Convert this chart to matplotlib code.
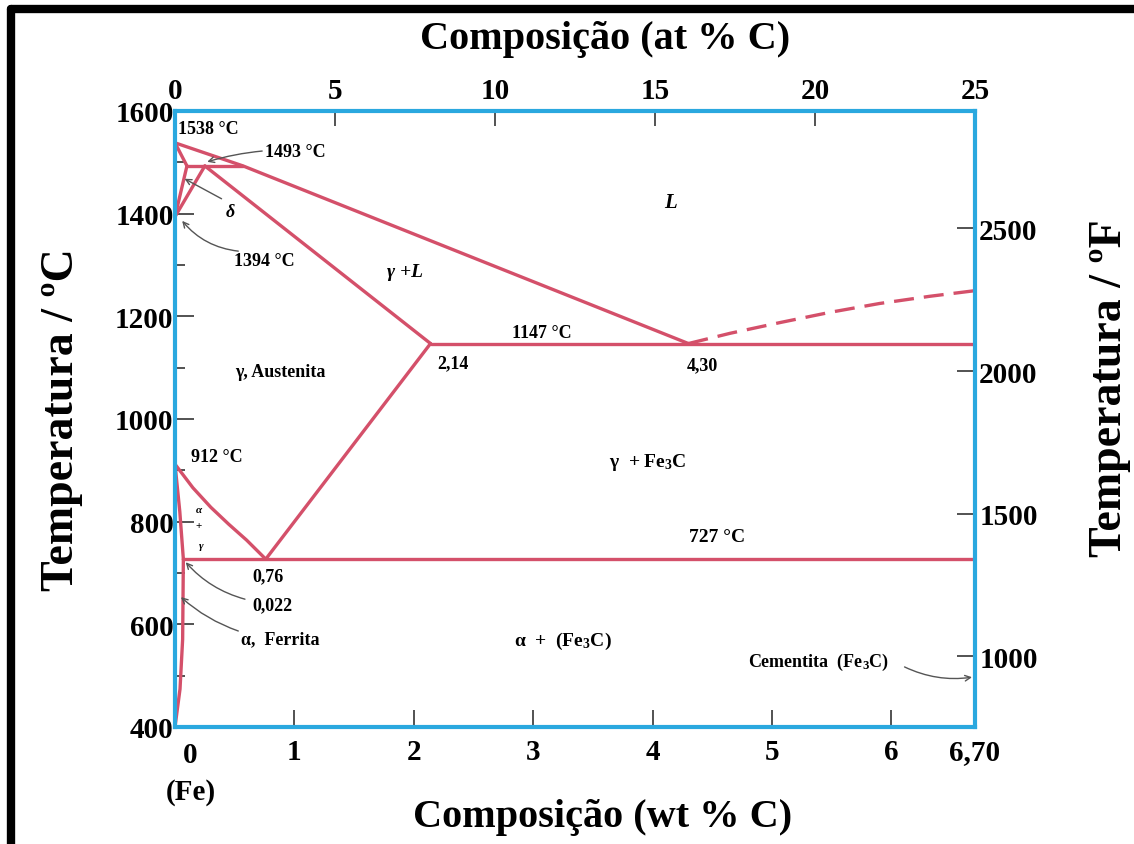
import matplotlib.pyplot as plt
from matplotlib.lines import Line2D
from matplotlib.ticker import MultipleLocator

plt.rcParams['font.family'] = ['Liberation Serif', 'DejaVu Serif']
plt.rcParams['font.weight'] = 'bold'
plt.rcParams['mathtext.fontset'] = 'custom'
plt.rcParams['mathtext.rm'] = 'Liberation Serif:bold'
plt.rcParams['mathtext.it'] = 'Liberation Serif:italic:bold'
plt.rcParams['mathtext.bf'] = 'Liberation Serif:bold'

# phase boundaries (wt % C, temperature in °C)
liquidus_wt = [0, 0.57, 4.30]
liquidus_t = [1538, 1493, 1147]
fe3c_liq_wt = [4.30, 4.65, 5.07, 5.49, 5.90, 6.32, 6.70]
fe3c_liq_t = [1147, 1167, 1188, 1208, 1225, 1239, 1250]
delta_sol_wt = [0, 0.10]
delta_sol_t = [1538, 1493]
delta_gam_wt = [0, 0.10]
delta_gam_t = [1394, 1493]
gam_delta_wt = [0, 0.25]
gam_delta_t = [1394, 1493]
peritectic_wt = [0.10, 0.57]
peritectic_t = [1493, 1493]
solidus_wt = [0.25, 2.14]
solidus_t = [1493, 1147]
eutectic_wt = [2.14, 6.70]
eutectic_t = [1147, 1147]
acm_wt = [0.76, 2.14]
acm_t = [727, 1147]
a3_wt = [0, 0.15, 0.30, 0.45, 0.60, 0.76]
a3_t = [912, 866, 828, 795, 764, 727]
alpha_gam_wt = [0, 0.04, 0.07]
alpha_gam_t = [912, 820, 727]
alpha_solvus_wt = [0.07, 0.064, 0.042, 0]
alpha_solvus_t = [727, 571, 474, 400]
eutectoid_wt = [0.07, 6.70]
eutectoid_t = [727, 727]

wt_ticks = [1, 2, 3, 4, 5, 6, 6.70]
wt_labels = ['1', '2', '3', '4', '5', '6', '6,70']
at_ticks = [0, 5, 10, 15, 20, 25]
c_ticks = [400, 600, 800, 1000, 1200, 1400, 1600]
f_ticks = [1000, 1500, 2000, 2500]

red = '#D4506A'
cyan = '#2AA8DF'
tickc = '#444444'
arrowc = '#555555'

fig = plt.figure(figsize=(11.34, 8.45), dpi=100)
ax = fig.add_axes([175 / 1134, 117 / 845, 800 / 1134, 616 / 845])

lines = [
    (liquidus_wt, liquidus_t), (delta_sol_wt, delta_sol_t),
    (delta_gam_wt, delta_gam_t), (gam_delta_wt, gam_delta_t),
    (peritectic_wt, peritectic_t), (solidus_wt, solidus_t),
    (eutectic_wt, eutectic_t), (acm_wt, acm_t), (a3_wt, a3_t),
    (alpha_gam_wt, alpha_gam_t), (alpha_solvus_wt, alpha_solvus_t),
    (eutectoid_wt, eutectoid_t),
]
for xs, ys in lines:
    ax.plot(xs, ys, color=red, lw=2.4, solid_capstyle='round')
ax.plot(fe3c_liq_wt, fe3c_liq_t, color=red, lw=2.4, dashes=(6, 3))

ax.set_xlim(0, 6.70)
ax.set_ylim(400, 1600)
for s in ax.spines.values():
    s.set_color(cyan)
    s.set_linewidth(3)
    s.set_zorder(5)

ax.set_xticks(wt_ticks)
ax.set_xticklabels(wt_labels)
ax.set_yticks(c_ticks)
ax.yaxis.set_minor_locator(MultipleLocator(100))
ax.tick_params(axis='y', which='major', direction='in', length=14, width=1.3,
               color=tickc, labelsize=21, pad=1)
ax.tick_params(axis='y', which='minor', direction='in', length=7, width=1.3,
               color=tickc)
ax.tick_params(axis='x', which='major', direction='in', length=12, width=1.3,
               color=tickc, labelsize=21, pad=8)

top = ax.secondary_xaxis('top', functions=(lambda w: w * 25 / 6.70,
                                             lambda a: a * 6.70 / 25))
top.set_xticks(at_ticks)
top.tick_params(direction='in', length=11, width=1.3, color=tickc,
                labelsize=21, pad=5)
top.spines['top'].set_visible(False)

right = ax.secondary_yaxis('right', functions=(lambda c: c * 9 / 5 + 32,
                                               lambda f: (f - 32) * 5 / 9))
right.set_yticks(f_ticks)
right.tick_params(direction='in', length=13, width=1.3, color=tickc,
                  labelsize=21, pad=3)
right.spines['right'].set_visible(False)


def arrow(start, tip, rad=0.0):
    ax.annotate('', xy=tip, xytext=start,
                arrowprops=dict(arrowstyle='->', color=arrowc, lw=1,
                                shrinkA=0, shrinkB=0,
                                connectionstyle=f'arc3,rad={rad}'))


fs = 13
ax.text(0.025, 1565, '1538 °C', fontsize=fs, ha='left', va='center')
ax.text(0.75, 1522, '1493 °C', fontsize=fs, ha='left', va='center')
arrow((0.73, 1522), (0.27, 1501), 0.05)
ax.text(0.46, 1405, 'δ', fontsize=fs, style='italic', ha='center',
        va='center')
arrow((0.39, 1429), (0.08, 1468))
ax.text(0.49, 1308, '1394 °C', fontsize=fs, ha='left', va='center')
arrow((0.53, 1327), (0.06, 1386), -0.2)
ax.text(0.13, 926, '912 °C', fontsize=fs, ha='left', va='center')
ax.text(0.20, 823, 'α', fontsize=8, ha='center', va='center', style='italic')
ax.text(0.20, 792, '+', fontsize=8, ha='center', va='center')
ax.text(0.22, 753, 'γ', fontsize=8, ha='center', va='center', style='italic')
ax.text(0.78, 694, '0,76', fontsize=fs, ha='center', va='center')
ax.text(0.82, 638, '0,022', fontsize=fs, ha='center', va='center')
arrow((0.586, 649), (0.09, 721), -0.15)
ax.text(0.88, 571, 'α,  Ferrita', fontsize=fs, ha='center', va='center')
arrow((0.53, 587), (0.05, 653), -0.1)
ax.text(0.88, 1092, 'γ, Austenita', fontsize=fs, ha='center', va='center')
ax.text(1.93, 1288, 'γ +L', fontsize=fs + 1, ha='center', va='center',
        style='italic')
ax.text(4.15, 1423, 'L', fontsize=fs + 2, ha='center', va='center',
        style='italic')
ax.text(2.33, 1109, '2,14', fontsize=fs, ha='center', va='center')
ax.text(3.07, 1168, '1147 °C', fontsize=fs, ha='center', va='center')
ax.text(4.42, 1105, '4,30', fontsize=fs, ha='center', va='center')
ax.text(3.96, 918, r'γ  + Fe$_3$C', fontsize=fs + 1, ha='center', va='center')
ax.text(4.54, 772, '727 °C', fontsize=fs + 1, ha='center', va='center')
ax.text(3.25, 568, r'α  +  (Fe$_3$C)', fontsize=fs + 1, ha='center',
        va='center')
ax.text(5.39, 527, r'Cementita  (Fe$_3$C)', fontsize=fs, ha='center',
        va='center')
arrow((6.11, 517), (6.675, 497), 0.15)

# "0 (Fe)" under the bottom axis
ax.text(0.13, -0.045, '0', transform=ax.get_xaxis_transform(), fontsize=21,
        ha='center', va='center')
ax.text(0.13, -0.105, '(Fe)', transform=ax.get_xaxis_transform(), fontsize=21,
        ha='center', va='center')

fig.text(62 / 1134, 1 - 420 / 845, 'Temperatura / ºC', rotation=90,
         fontsize=33, ha='center', va='center')
fig.text(1110 / 1134, 1 - 388 / 845, 'Temperatura / ºF', rotation=90,
         fontsize=33, ha='center', va='center')
fig.text(605 / 1134, 1 - 40 / 845, 'Composição (at % C)', fontsize=29,
         ha='center', va='center')
fig.text(603 / 1134, 1 - 818 / 845, 'Composição (wt % C)', fontsize=29,
         ha='center', va='center')

# black frame on the top and left edges
fig.add_artist(Line2D([11 / 1134, 1.05], [1 - 10 / 845, 1 - 10 / 845],
                      transform=fig.transFigure, color='black', lw=6,
                      solid_capstyle='round'))
fig.add_artist(Line2D([11 / 1134, 11 / 1134], [1 - 10 / 845, -0.05],
                      transform=fig.transFigure, color='black', lw=6,
                      solid_capstyle='round'))

fig.savefig('out.png', dpi=100)
